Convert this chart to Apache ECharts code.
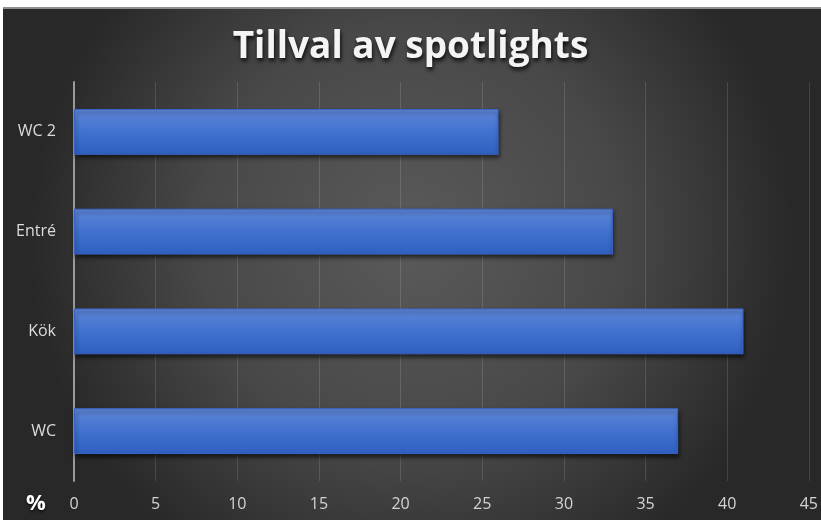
<!DOCTYPE html>
<html>
<head>
<meta charset="utf-8">
<script src="https://cdn.jsdelivr.net/npm/echarts@6/dist/echarts.min.js"></script>
<style>
  html, body { margin: 0; padding: 0; background: #ffffff; }
  #chart { width: 821px; height: 520px; }
</style>
</head>
<body>
<div id="chart"></div>
<script>
// Rooms where spotlights were chosen (bottom to top on the axis)
const categories = ['WC', 'Kök', 'Entré', 'WC 2'];
const percentages = [37, 41, 33, 26];
const xTicks = { min: 0, max: 45, interval: 5 };
const titleText = 'Tillval av spotlights';
const unitText = '%';

const chart = echarts.init(document.getElementById('chart'), null, { renderer: 'canvas' });

const option = {
  backgroundColor: '#ffffff',
  animation: false,
  title: {
    text: titleText,
    left: 'center',
    top: 24,
    textStyle: {
      fontFamily: 'Open Sans',
      fontWeight: 'bold',
      fontSize: 37,
      color: '#f4f4f4',
      textShadowColor: 'rgba(0,0,0,0.85)',
      textShadowBlur: 4,
      textShadowOffsetX: 1,
      textShadowOffsetY: 3
    }
  },
  graphic: [
    {
      type: 'rect',
      z: -10,
      silent: true,
      shape: { x: 3, y: 8, width: 818, height: 512 },
      style: {
        fill: {
          type: 'radial', x: 0.5, y: 0.45, r: 0.75,
          colorStops: [
            { offset: 0, color: '#5a5a5a' },
            { offset: 0.55, color: '#484848' },
            { offset: 1, color: '#282828' }
          ]
        }
      }
    },
    {
      type: 'rect',
      z: -9,
      silent: true,
      shape: { x: 3, y: 7, width: 818, height: 2 },
      style: { fill: '#8f8f8f' }
    },
    {
      type: 'text',
      left: 26,
      top: 493,
      style: {
        text: unitText,
        fontFamily: 'Open Sans',
        fontWeight: 'bold',
        fontSize: 22,
        fill: '#ffffff',
        textShadowColor: 'rgba(0,0,0,0.7)',
        textShadowBlur: 3,
        textShadowOffsetY: 2
      }
    }
  ],
  grid: { left: 74, right: 10, top: 82, bottom: 39, containLabel: false },
  xAxis: {
    type: 'value',
    min: xTicks.min,
    max: xTicks.max,
    interval: xTicks.interval,
    axisLine: { show: false },
    axisTick: { show: false },
    axisLabel: {
      color: '#d4d4d4',
      fontFamily: 'Open Sans',
      fontSize: 16,
      margin: 15
    },
    splitLine: { lineStyle: { color: 'rgba(255,255,255,0.13)', width: 1 } }
  },
  yAxis: {
    type: 'category',
    data: categories,
    axisLine: { show: true, lineStyle: { color: '#9a9a9a', width: 2 } },
    axisTick: { show: false },
    axisLabel: {
      color: '#dcdcdc',
      fontFamily: 'Open Sans',
      fontSize: 16,
      margin: 18
    }
  },
  series: [
    {
      type: 'bar',
      data: percentages,
      barCategoryGap: '54%',
      itemStyle: {
        color: {
          type: 'linear', x: 0, y: 0, x2: 0, y2: 1,
          colorStops: [
            { offset: 0, color: '#5f87d8' },
            { offset: 0.5, color: '#4271d0' },
            { offset: 1, color: '#2f5fc0' }
          ]
        },
        borderColor: '#3a64c4',
        borderWidth: 1,
        shadowColor: 'rgba(0,0,0,0.6)',
        shadowBlur: 4,
        shadowOffsetX: 1,
        shadowOffsetY: 3
      }
    }
  ]
};

chart.setOption(option);
</script>
</body>
</html>
